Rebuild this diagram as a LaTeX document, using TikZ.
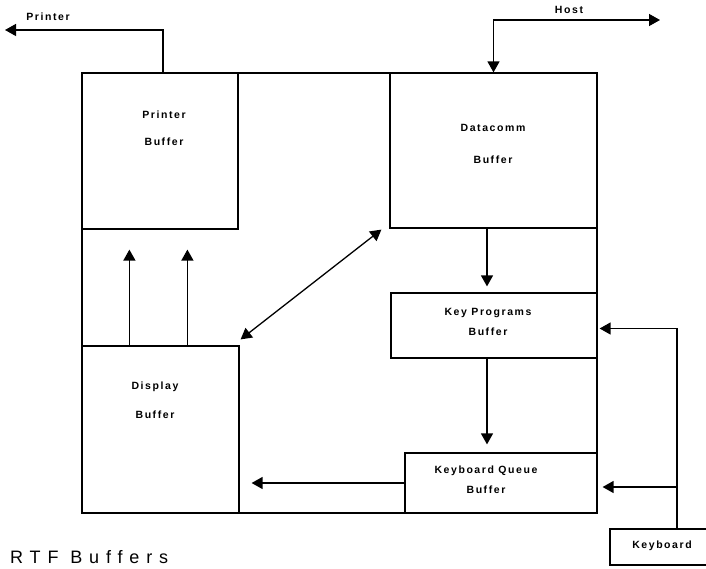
\documentclass[tikz,border=0pt]{standalone}
\usepackage{fontspec}
\setmainfont{Liberation Sans}
\usetikzlibrary{arrows.meta,calc}
\begin{document}
\begin{tikzpicture}[x=1pt,y=-1pt,
  box/.style={draw,line width=1.2pt,inner sep=0pt,minimum width=#1},
  lbl/.style={inner sep=0pt,font=\fontsize{10.5}{12}\selectfont\bfseries\addfontfeature{LetterSpace=15}},
  conn/.style={line width=1.3pt,-{Triangle[length=11pt,width=12pt]}},
  conn2/.style={line width=1.3pt,{Triangle[length=11pt,width=12pt]}-{Triangle[length=11pt,width=12pt]}}]
\useasboundingbox (0,0) rectangle (706,569);
% frame and boxes
\node[box=515pt,minimum height=440pt] (frame) at (339.5,293) {};
\node[box=156pt,minimum height=156pt] (pbuf) at (160,151) {};
\node[box=207pt,minimum height=155pt] (dbuf) at (493.5,150.5) {};
\node[box=206pt,minimum height=65pt] (kp) at (494,325.5) {};
\node[box=192pt,minimum height=60pt] (kq) at (501,483) {};
\node[box=157pt,minimum height=167pt] (disp) at (160.5,429.5) {};
\node[box=102pt,minimum height=36pt] (kb) at (661,547) {};
% texts
\node[lbl] (t-pr1) at (164,115) {Printer};
\node[lbl] (t-pr2) at (164,142) {Buffer};
\node[lbl] (t-dc1) at (493,128) {Datacomm};
\node[lbl] (t-dc2) at (493,160) {Buffer};
\node[lbl] (t-kp1) at (488,313) {Key Programs};
\node[lbl] (t-kp2) at (488,332) {Buffer};
\node[lbl] (t-kq1) at (486,471) {Keyboard Queue};
\node[lbl] (t-kq2) at (486,490) {Buffer};
\node[lbl] (t-di1) at (155,387) {Display};
\node[lbl] (t-di2) at (155,415) {Buffer};
\node[lbl] (t-kb) at (662,546) {Keyboard};
\node[lbl] (t-printer) at (48,17) {Printer};
\node[lbl] (t-host) at (569,10) {Host};
\node[inner sep=0pt,anchor=base west,font=\fontsize{18}{20}\selectfont\addfontfeature{LetterSpace=38}] (caption) at (10,563) {RTF Buffers};
% external ends
\coordinate (prout) at (5,30);
\coordinate (hostout) at (660,20);
\coordinate (kbj) at (677,487);
% connectors
\draw[conn] ([xshift=3pt]pbuf.north) |- (prout);
\draw[conn2] (dbuf.north) |- (hostout);
\draw[conn] ($(disp.north west)+(48,0)$) -- ($(pbuf.south west)+(48,20)$);
\draw[conn] ($(disp.north west)+(106,0)$) -- ($(pbuf.south west)+(106,20)$);
\draw[conn2] ($(disp.north east)+(1,-6)$) -- ($(dbuf.south west)+(-8,1)$);
\draw[conn,shorten >=6pt] ([xshift=-6.5pt]dbuf.south) -- ([xshift=-7pt]kp.north);
\draw[conn,shorten >=8pt] ([xshift=-7pt]kp.south) -- ([xshift=-14pt]kq.north);
\draw[conn,shorten >=12pt] (kq.west) -- (kq.west -| disp.east);
\draw[conn,shorten >=2pt] (kb.north -| kbj) |- ([yshift=-3pt]kp.east);
\draw[conn,shorten >=5pt] (kbj) -- (kbj -| kq.east);
\end{tikzpicture}
\end{document}
